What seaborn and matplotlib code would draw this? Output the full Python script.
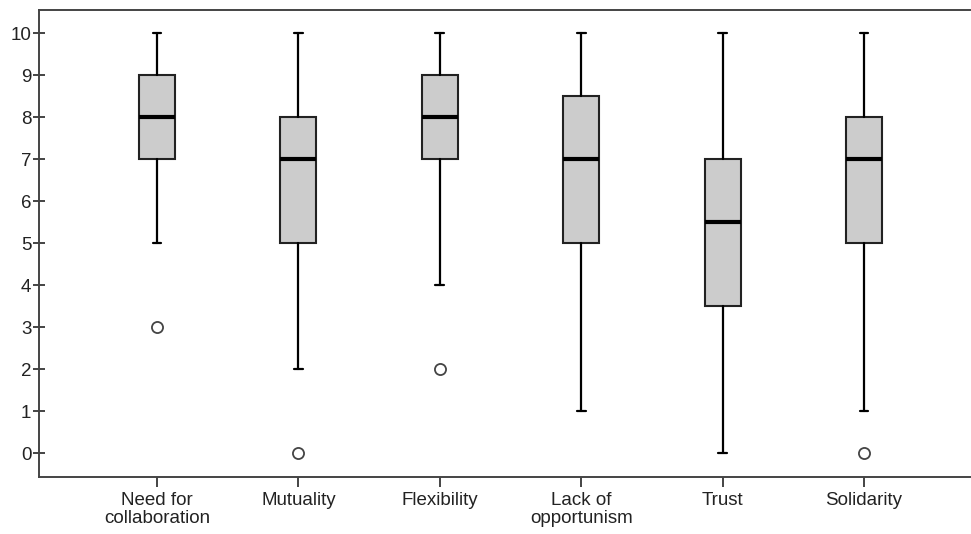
import matplotlib
matplotlib.use("Agg")
import matplotlib.pyplot as plt
import seaborn as sns

categories = ["Need for\ncollaboration", "Mutuality", "Flexibility",
              "Lack of\nopportunism", "Trust", "Solidarity"]
whisker_low = [5, 2, 4, 1, 0, 1]
q1 = [7, 5, 7, 5, 3.5, 5]
median = [8, 7, 8, 7, 5.5, 7]
q3 = [9, 8, 9, 8.5, 7, 8]
whisker_high = [10, 10, 10, 10, 10, 10]
outliers = [[3], [0], [2], [], [], [0]]
y_ticks = list(range(0, 11))

sns.set_theme(style="ticks")
plt.rcParams["font.family"] = ["Liberation Sans", "DejaVu Sans"]

fig = plt.figure(figsize=(9.71, 5.34), dpi=100)
ax = fig.add_axes([0.0402, 0.1067, 0.9588, 0.8746])

stats = []
for i, lab in enumerate(categories):
    stats.append(dict(label=lab, whislo=whisker_low[i], q1=q1[i], med=median[i],
                      q3=q3[i], whishi=whisker_high[i], fliers=outliers[i]))

ax.bxp(stats, positions=list(range(len(categories))), widths=0.255,
       patch_artist=True, showfliers=True,
       boxprops=dict(facecolor="#cccccc", edgecolor="#222222", linewidth=1.5),
       medianprops=dict(color="black", linewidth=3),
       whiskerprops=dict(color="black", linewidth=1.6),
       capprops=dict(color="black", linewidth=1.6),
       capwidths=0.063,
       flierprops=dict(marker="o", markersize=8, markerfacecolor="white",
                       markeredgecolor="#444444", markeredgewidth=1.3))

ax.set_xlim(-0.834, 5.75)
ax.set_ylim(-0.57, 10.55)
ax.set_yticks(y_ticks)
ax.set_yticklabels([str(t) for t in y_ticks])
ax.set_xticks(list(range(len(categories))))
ax.set_xticklabels(categories, linespacing=1.05)

for s in ax.spines.values():
    s.set_color("#444444")
    s.set_linewidth(1.4)
ax.spines["right"].set_visible(False)

ax.tick_params(axis="y", direction="inout", length=9, width=1.4, color="#444444",
               labelsize=13.5, labelcolor="#222222", pad=1)
ax.tick_params(axis="x", direction="out", length=7, width=1.4, color="#444444",
               labelsize=13.5, labelcolor="#222222", pad=4)

fig.savefig("out.png", dpi=100)
